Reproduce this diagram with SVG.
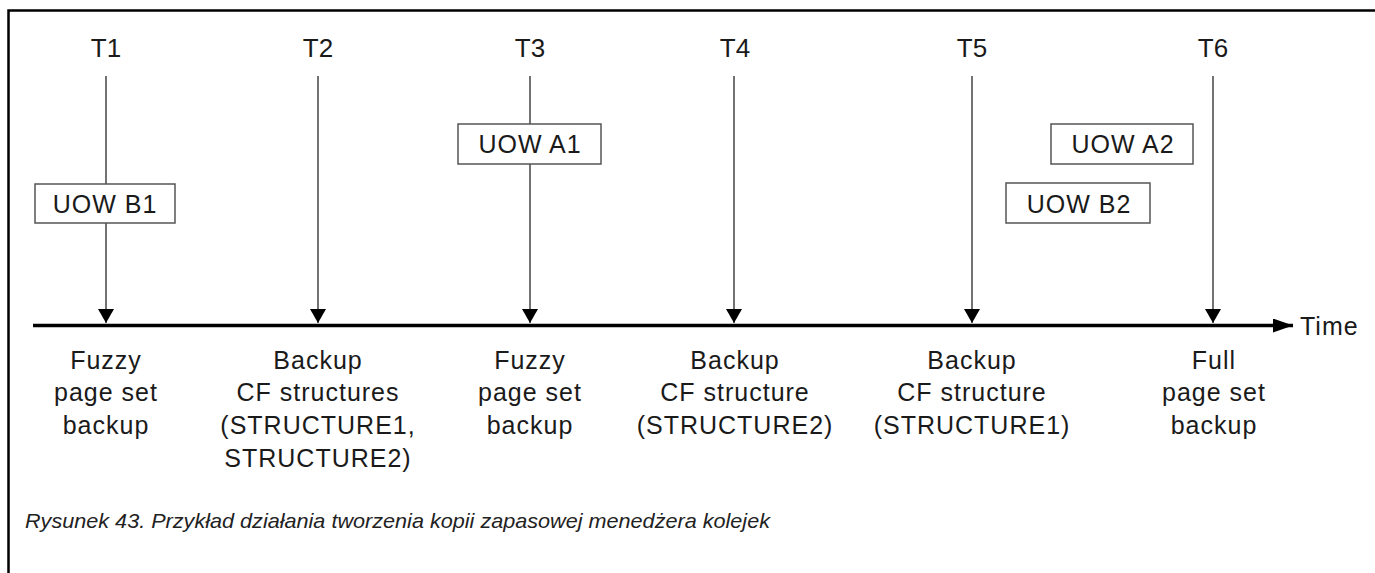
<svg xmlns="http://www.w3.org/2000/svg" width="1375" height="573" viewBox="0 0 1375 573">
  <style>
    .lbl { font-family: "Liberation Sans", Arial, sans-serif; font-size: 25px; fill: #1a1a1a; text-anchor: middle; letter-spacing: 1px; }
    .tl { font-family: "Liberation Sans", Arial, sans-serif; font-size: 26px; fill: #1a1a1a; text-anchor: middle; }
    .box { fill: #ffffff; stroke: #555555; stroke-width: 1.5; }
    .vline { stroke: #444444; stroke-width: 1.5; fill: none; }
    .axis { stroke: #000000; stroke-width: 3.5; fill: none; }
    .cap { font-family: "Liberation Sans", Arial, sans-serif; font-size: 21px; font-style: italic; fill: #222222; }
  </style>
  <defs>
    <marker id="down" markerUnits="userSpaceOnUse" markerWidth="14" markerHeight="16" refX="14" refY="8" orient="auto" viewBox="0 0 14 16">
      <path d="M0,0 L14,8 L0,16 Z" fill="#000000"/>
    </marker>
    <marker id="timehead" markerUnits="userSpaceOnUse" markerWidth="20" markerHeight="14" refX="20" refY="7" orient="auto" viewBox="0 0 20 14">
      <path d="M0,0 L20,7 L0,14 Z" fill="#000000"/>
    </marker>
  </defs>
  <rect width="1375" height="573" fill="#ffffff"/>

  <g id="frame">
    <path d="M8.5,573 L8.5,10.5 L1375,10.5" fill="none" stroke="#000000" stroke-width="2.5"/>
  </g>

  <g id="connectors">
    <line class="vline" x1="106" y1="76" x2="106" y2="323" marker-end="url(#down)"/>
    <line class="vline" x1="318" y1="76" x2="318" y2="323" marker-end="url(#down)"/>
    <line class="vline" x1="530" y1="76" x2="530" y2="323" marker-end="url(#down)"/>
    <line class="vline" x1="734" y1="76" x2="734" y2="323" marker-end="url(#down)"/>
    <line class="vline" x1="972" y1="76" x2="972" y2="323" marker-end="url(#down)"/>
    <line class="vline" x1="1213" y1="76" x2="1213" y2="323" marker-end="url(#down)"/>
    <line class="axis" x1="33" y1="325.5" x2="1293" y2="325.5" marker-end="url(#timehead)"/>
  </g>

  <g id="t1">
    <text class="tl" x="106" y="57">T1</text>
    <text class="lbl" x="106" y="369">Fuzzy</text>
    <text class="lbl" x="106" y="401">page set</text>
    <text class="lbl" x="106" y="434">backup</text>
  </g>
  <g id="t2">
    <text class="tl" x="318" y="57">T2</text>
    <text class="lbl" x="318" y="369">Backup</text>
    <text class="lbl" x="318" y="401">CF structures</text>
    <text class="lbl" x="318" y="434">(STRUCTURE1,</text>
    <text class="lbl" x="318" y="467">STRUCTURE2)</text>
  </g>
  <g id="t3">
    <text class="tl" x="530" y="57">T3</text>
    <text class="lbl" x="530" y="369">Fuzzy</text>
    <text class="lbl" x="530" y="401">page set</text>
    <text class="lbl" x="530" y="434">backup</text>
  </g>
  <g id="t4">
    <text class="tl" x="735" y="57">T4</text>
    <text class="lbl" x="735" y="369">Backup</text>
    <text class="lbl" x="735" y="401">CF structure</text>
    <text class="lbl" x="735" y="434">(STRUCTURE2)</text>
  </g>
  <g id="t5">
    <text class="tl" x="972" y="57">T5</text>
    <text class="lbl" x="972" y="369">Backup</text>
    <text class="lbl" x="972" y="401">CF structure</text>
    <text class="lbl" x="972" y="434">(STRUCTURE1)</text>
  </g>
  <g id="t6">
    <text class="tl" x="1213" y="57">T6</text>
    <text class="lbl" x="1214" y="369">Full</text>
    <text class="lbl" x="1214" y="401">page set</text>
    <text class="lbl" x="1214" y="434">backup</text>
  </g>

  <g id="uow-b1">
    <rect class="box" x="35" y="184" width="140" height="39"/>
    <text class="lbl" x="105" y="213">UOW B1</text>
  </g>
  <g id="uow-a1">
    <rect class="box" x="458" y="124" width="143" height="40"/>
    <text class="lbl" x="530" y="153">UOW A1</text>
  </g>
  <g id="uow-a2">
    <rect class="box" x="1051" y="124" width="142" height="40"/>
    <text class="lbl" x="1123" y="153">UOW A2</text>
  </g>
  <g id="uow-b2">
    <rect class="box" x="1006" y="183" width="144" height="40"/>
    <text class="lbl" x="1079" y="213">UOW B2</text>
  </g>

  <g id="time-label">
    <text class="lbl" x="1300" y="335" style="text-anchor:start">Time</text>
  </g>

  <g id="caption">
    <text class="cap" x="25" y="528" textLength="745" lengthAdjust="spacingAndGlyphs">Rysunek 43. Przykład działania tworzenia kopii zapasowej menedżera kolejek</text>
  </g>
</svg>
